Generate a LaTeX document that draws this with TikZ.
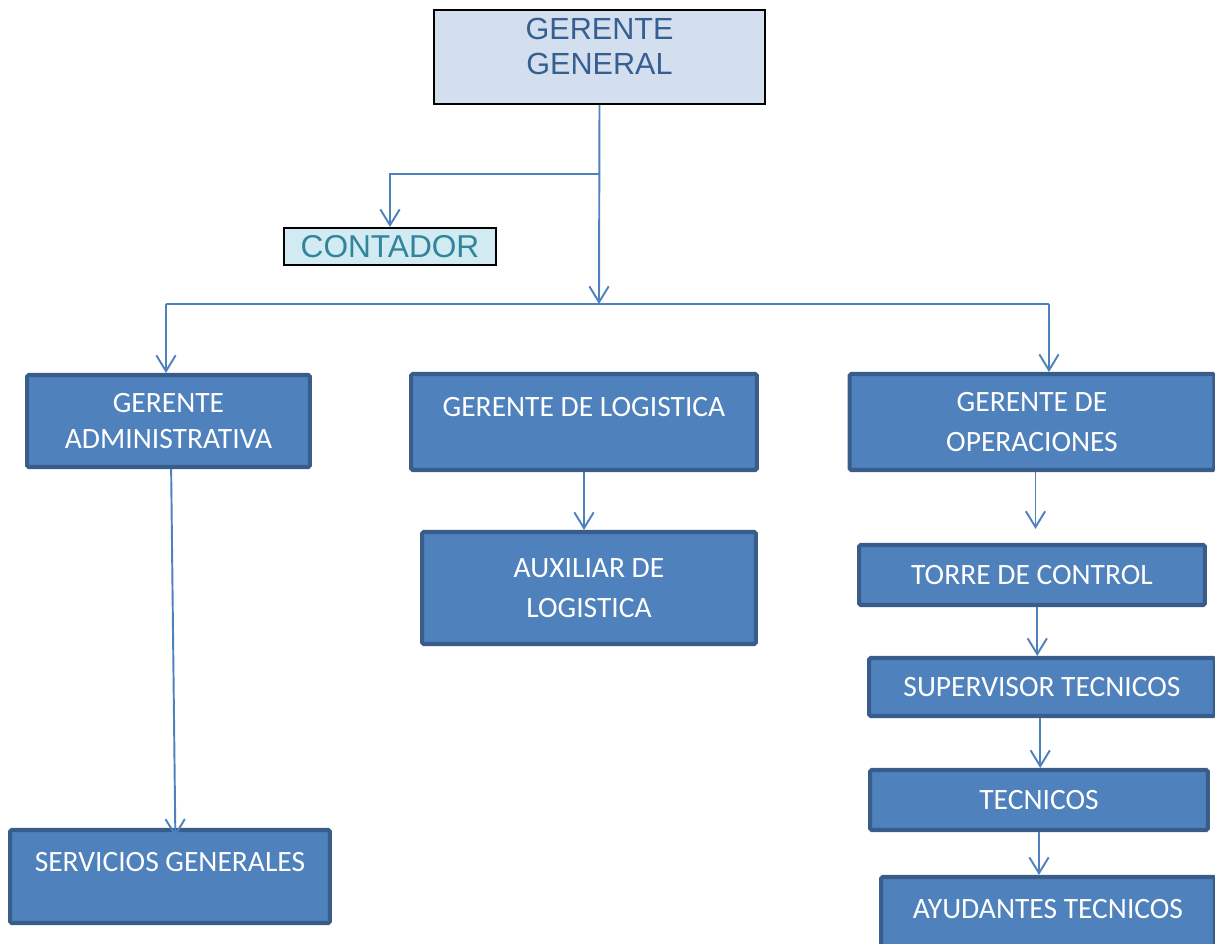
\documentclass[tikz,border=0pt]{standalone}
\usepackage{fontspec}
\setmainfont{Carlito}
\newfontfamily\arialfont{Liberation Sans}
\usepackage{xcolor}
\usetikzlibrary{arrows.meta, positioning}

\definecolor{headfill}{HTML}{D3DFEE}
\definecolor{headtext}{HTML}{365F91}
\definecolor{contfill}{HTML}{D2EAF1}
\definecolor{conttext}{HTML}{31849B}
\definecolor{boxfill}{HTML}{4F81BD}
\definecolor{boxline}{HTML}{385D8A}
\definecolor{linkcol}{HTML}{4F81BD}

\tikzset{
  headbox/.style={draw=black, line width=1.1pt, fill=headfill, text=headtext,
    font=\arialfont\fontsize{17.4}{19.8}\selectfont, align=center, inner sep=0pt},
  contbox/.style={draw=black, line width=1.1pt, fill=contfill, text=conttext,
    font=\arialfont\fontsize{18}{20}\selectfont, inner sep=0pt},
  unitbox/.style={draw=boxline, line width=2.3pt, fill=boxfill, text=white,
    rounded corners=1pt, font=\fontsize{16.8}{22.5}\selectfont, align=center, inner sep=0pt},
  link/.style={draw=linkcol, line width=1.1pt},
  arrowlink/.style={link, -{Straight Barb[length=9pt, width=11pt]}}
}

\begin{document}
\begin{tikzpicture}[x=0.02cm, y=-0.02cm]
    \useasboundingbox (0,0) rectangle (1215,944);

    % top level
    \node[headbox, minimum width=6.62cm, minimum height=1.88cm, text height=33pt, text depth=13pt]
        (gg) at (599.5,57) {GERENTE\\GENERAL};
    \node[contbox, minimum width=4.24cm, minimum height=0.74cm] (cont) at (390,246.5) {CONTADOR};

    % second level
    \node[unitbox, minimum width=5.66cm, minimum height=1.84cm, font=\fontsize{16.8}{20.4}\selectfont]
        (adm) at (168.5,421) {GERENTE\\ADMINISTRATIVA};
    \node[unitbox, minimum width=6.92cm, minimum height=1.92cm, text height=12pt, text depth=18.2pt]
        (log) at (584,422) {GERENTE DE LOGISTICA};
    \node[unitbox, minimum width=7.3cm, minimum height=1.92cm] (ope) at (1032,422) {GERENTE DE\\OPERACIONES};

    % lower levels
    \node[unitbox, minimum width=6.68cm, minimum height=2.24cm] (aux) at (589,588) {AUXILIAR DE\\LOGISTICA};
    \node[unitbox, minimum width=6.4cm, minimum height=1.86cm, text height=12pt, text depth=17.6pt]
        (serv) at (170,876.5) {SERVICIOS GENERALES};
    \node[unitbox, minimum width=6.92cm, minimum height=1.2cm] (torre) at (1032,575) {TORRE DE CONTROL};
    \node[unitbox, minimum width=6.92cm, minimum height=1.16cm] (sup) at (1042,687) {SUPERVISOR TECNICOS};
    \node[unitbox, minimum width=6.76cm, minimum height=1.2cm] (tec) at (1039,800) {TECNICOS};
    \node[unitbox, minimum width=6.68cm, minimum height=1.6cm, text height=12pt, text depth=10.2pt]
        (ayu) at (1048,917) {AYUDANTES TECNICOS};

    % branch points
    \coordinate (split) at (599,174);
    \coordinate (mid) at (599,304);
    \coordinate (barL) at (166,304);
    \coordinate (barR) at (1049,304);

    % connectors
    \draw[arrowlink] (gg.south) -- (mid);
    \draw[arrowlink] (split) -| (cont.north);
    \draw[link] (barL) -- (barR);
    \draw[arrowlink] (barL) -- (barL |- adm.north);
    \draw[arrowlink] (barR) -- (barR |- ope.north);
    \draw[arrowlink, shorten >=-5pt] ([xshift=1.5pt]adm.south) -- ([xshift=3pt]serv.north);
    \draw[arrowlink] (log.south) -- (log.south |- aux.north);
    \draw[arrowlink, shorten >=8pt] ([xshift=2pt]ope.south) -- ([xshift=2pt]ope.south |- torre.north);
    \draw[arrowlink] ([xshift=3pt]torre.south) -- ([xshift=3pt]torre.south |- sup.north);
    \draw[arrowlink] ([xshift=-1pt]sup.south) -- ([xshift=-1pt]sup.south |- tec.north);
    \draw[arrowlink] (tec.south) -- (tec.south |- ayu.north);
\end{tikzpicture}
\end{document}
